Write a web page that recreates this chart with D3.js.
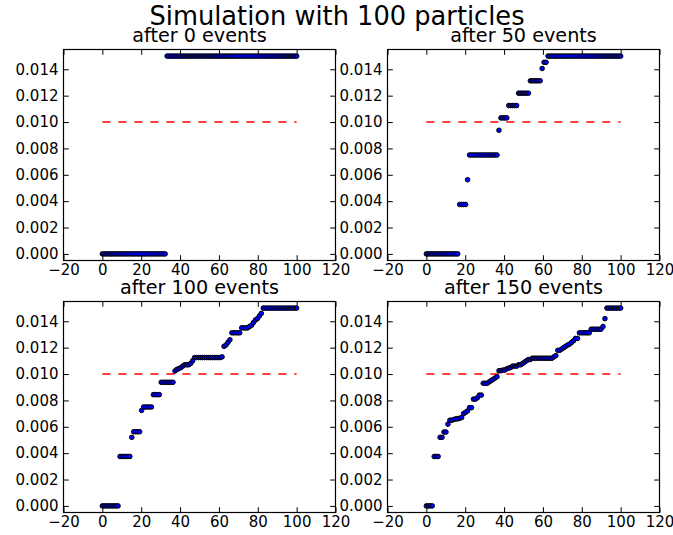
<!DOCTYPE html>
<html>
<head>
<meta charset="utf-8">
<script src="https://cdn.jsdelivr.net/npm/d3@7"></script>
<style>
  html, body { margin: 0; padding: 0; background: #fff; }
  svg { display: block; }
  text { font-family: "DejaVu Sans", sans-serif; fill: #000; }
</style>
</head>
<body>
<svg id="chart" width="673" height="535"></svg>
<script>
// Sorted particle values after each number of events
const after0 = [
  0,0,0,0,0,0,0,0,0,0,
  0,0,0,0,0,0,0,0,0,0,
  0,0,0,0,0,0,0,0,0,0,
  0,0,0,0.015,0.015,0.015,0.015,0.015,0.015,0.015,
  0.015,0.015,0.015,0.015,0.015,0.015,0.015,0.015,0.015,0.015,
  0.015,0.015,0.015,0.015,0.015,0.015,0.015,0.015,0.015,0.015,
  0.015,0.015,0.015,0.015,0.015,0.015,0.015,0.015,0.015,0.015,
  0.015,0.015,0.015,0.015,0.015,0.015,0.015,0.015,0.015,0.015,
  0.015,0.015,0.015,0.015,0.015,0.015,0.015,0.015,0.015,0.015,
  0.015,0.015,0.015,0.015,0.015,0.015,0.015,0.015,0.015,0.015
];
const after50 = [
  0,0,0,0,0,0,0,0,0,0,
  0,0,0,0,0,0,0,0.00375,0.00375,0.00375,
  0.00375,0.005625,0.0075,0.0075,0.0075,0.0075,0.0075,0.0075,0.0075,0.0075,
  0.0075,0.0075,0.0075,0.0075,0.0075,0.0075,0.0075,0.009375,0.0103125,0.0103125,
  0.0103125,0.0103125,0.01125,0.01125,0.01125,0.01125,0.01125,0.0121875,0.0121875,0.0121875,
  0.0121875,0.0121875,0.0121875,0.013125,0.013125,0.013125,0.013125,0.013125,0.013125,0.0140625,
  0.0145313,0.0145313,0.015,0.015,0.015,0.015,0.015,0.015,0.015,0.015,
  0.015,0.015,0.015,0.015,0.015,0.015,0.015,0.015,0.015,0.015,
  0.015,0.015,0.015,0.015,0.015,0.015,0.015,0.015,0.015,0.015,
  0.015,0.015,0.015,0.015,0.015,0.015,0.015,0.015,0.015,0.015
];
const after100 = [
  0,0,0,0,0,0,0,0,0,0.00375,
  0.00375,0.00375,0.00375,0.00375,0.00375,0.0052,0.005625,0.005625,0.005625,0.005625,
  0.00724,0.0075,0.0075,0.0075,0.0075,0.0075,0.0084375,0.0084375,0.0084375,0.0084375,
  0.009375,0.009375,0.009375,0.009375,0.009375,0.009375,0.009375,0.01023,0.01035,0.01042,
  0.01048,0.0106,0.0107,0.0107,0.0107,0.0108,0.011,0.01125,0.01125,0.01125,
  0.01125,0.01125,0.01125,0.01125,0.01125,0.01125,0.01125,0.01125,0.01125,0.01125,
  0.01125,0.0113,0.0121,0.0122,0.0124,0.0126,0.013125,0.013125,0.013125,0.013125,
  0.013125,0.0135,0.0135,0.0135,0.0135,0.0136,0.0137,0.0139,0.0141,0.0142,
  0.0144,0.0146,0.015,0.015,0.015,0.015,0.015,0.015,0.015,0.015,
  0.015,0.015,0.015,0.015,0.015,0.015,0.015,0.015,0.015,0.015
];
const after150 = [
  0,0,0,0,0.00375,0.00375,0.00375,0.0052,0.0052,0.0056,
  0.0056,0.0062,0.0065,0.0065,0.00655,0.0066,0.0066,0.00665,0.0067,0.007,
  0.0071,0.0072,0.00745,0.00745,0.0081,0.0081,0.0082,0.0084,0.0084,0.0093,
  0.0093,0.0093,0.0094,0.0095,0.0096,0.0097,0.0098,0.01025,0.01025,0.0103,
  0.0103,0.0104,0.01045,0.0105,0.0106,0.0106,0.0106,0.0107,0.0107,0.0108,
  0.0109,0.011,0.0111,0.0111,0.0112,0.0112,0.0112,0.0112,0.0112,0.0112,
  0.0112,0.0112,0.0112,0.0112,0.0112,0.0113,0.0114,0.0118,0.0118,0.0119,
  0.012,0.0121,0.0122,0.01227,0.0124,0.01252,0.0127,0.0127,0.013125,0.013125,
  0.013125,0.013125,0.013125,0.013125,0.0134,0.0134,0.0134,0.0134,0.0134,0.0134,
  0.0136,0.0142,0.015,0.015,0.015,0.015,0.015,0.015,0.015,0.015
];

const panelTitles = ["after 0 events", "after 50 events", "after 100 events", "after 150 events"];
const panelSeries = [after0, after50, after100, after150];
const xTicks = [-20, 0, 20, 40, 60, 80, 100, 120];
const yTicks = [0, 0.002, 0.004, 0.006, 0.008, 0.010, 0.012, 0.014];
const meanLevel = 0.01;
const meanSpan = [0, 100];
const figureTitle = "Simulation with 100 particles";

// Layout
const svg = d3.select("#chart");
svg.append("rect").attr("width", 673).attr("height", 535).attr("fill", "#fff");

const panelW = 272, panelH = 211;
const origins = [[63.5, 49.5], [387.5, 49.5], [63.5, 301.5], [387.5, 301.5]];
const tickLen = 5.3;

svg.append("text")
  .attr("x", 337).attr("y", 25)
  .attr("text-anchor", "middle")
  .style("font-size", "25.7px")
  .text(figureTitle);

panelSeries.forEach((values, k) => {
  const [ox, oy] = origins[k];
  const g = svg.append("g").attr("transform", `translate(${ox},${oy})`);

  const x = d3.scaleLinear().domain([-20, 120]).range([0, panelW]);
  const y = d3.scaleLinear().domain([-0.0005, 0.0155]).range([panelH, 0]);
  // particles are spread evenly over 0..100 by rank
  const rankX = d3.scaleLinear().domain([0, values.length - 1]).range([0, 100]);

  // mean level
  g.append("path")
    .datum(meanSpan.map(v => [v, meanLevel]))
    .attr("d", d3.line().x(d => x(d[0])).y(d => y(d[1])))
    .attr("fill", "none")
    .attr("stroke", "#ff0000")
    .attr("stroke-width", 1.4)
    .attr("stroke-dasharray", "8,8");

  // particles
  g.append("g").selectAll("circle")
    .data(values)
    .join("circle")
    .attr("cx", (d, i) => x(rankX(i)))
    .attr("cy", d => y(d))
    .attr("r", 2.3)
    .attr("fill", "#0000ff")
    .attr("stroke", "#000")
    .attr("stroke-width", 1);

  // axes with inward ticks on all four sides
  const styleAxis = sel => {
    sel.select(".domain").remove();
    sel.selectAll(".tick line").attr("stroke", "#000").attr("stroke-width", 1);
    sel.selectAll(".tick text").style("font-family", "'DejaVu Sans', sans-serif").style("font-size", "15px").attr("fill", "#000");
  };
  g.append("g").attr("transform", `translate(0,${panelH})`)
    .call(d3.axisBottom(x).tickValues(xTicks).tickSizeInner(-tickLen).tickSizeOuter(0).tickPadding(4))
    .call(styleAxis);
  g.append("g")
    .call(d3.axisTop(x).tickValues(xTicks).tickSizeInner(-tickLen).tickSizeOuter(0).tickFormat(""))
    .call(styleAxis);
  g.append("g")
    .call(d3.axisLeft(y).tickValues(yTicks).tickSizeInner(-tickLen).tickSizeOuter(0).tickPadding(5).tickFormat(d3.format(".3f")))
    .call(styleAxis);
  g.append("g").attr("transform", `translate(${panelW},0)`)
    .call(d3.axisRight(y).tickValues(yTicks).tickSizeInner(-tickLen).tickSizeOuter(0).tickFormat(""))
    .call(styleAxis);

  g.append("rect")
    .attr("width", panelW).attr("height", panelH)
    .attr("fill", "none").attr("stroke", "#000").attr("stroke-width", 1.2);

  g.append("text")
    .attr("x", panelW / 2).attr("y", -7.5)
    .attr("text-anchor", "middle")
    .style("font-size", "19.2px")
    .text(panelTitles[k]);
});
</script>
</body>
</html>
